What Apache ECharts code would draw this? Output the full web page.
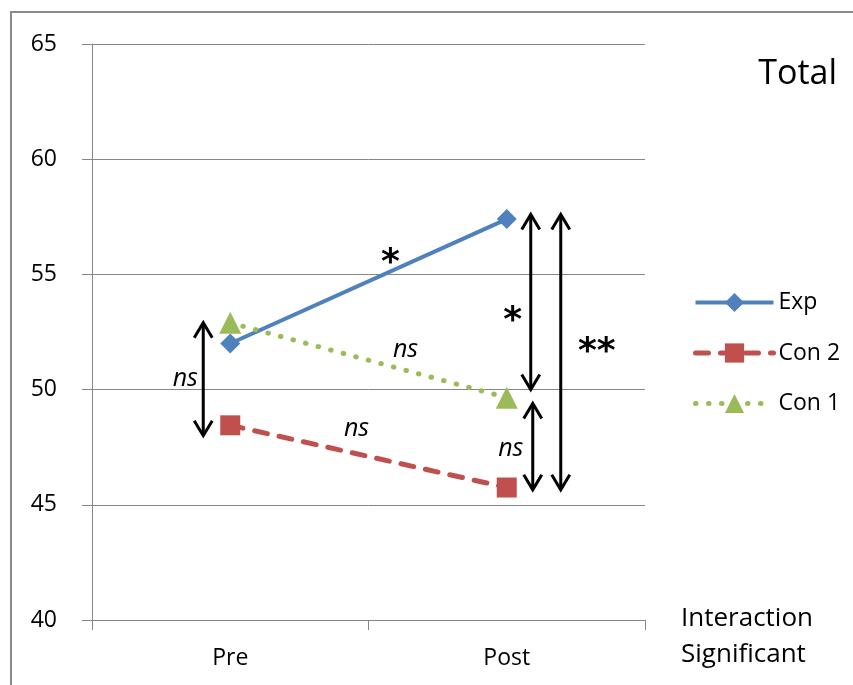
<!DOCTYPE html>
<html><head><meta charset="utf-8">
<script src="https://cdn.jsdelivr.net/npm/echarts@6/dist/echarts.min.js"></script>
<style>html,body{margin:0;padding:0;background:#fff}#c{width:853px;height:685px}</style>
</head><body><div id="c"></div>
<script>
// ---- data ----
const categories = ['Pre', 'Post'];
const expValues = [52.0, 57.4];
const con2Values = [48.45, 45.75];
const con1Values = [52.9, 49.65];
const yMin = 40, yMax = 65, yInterval = 5;
// significance comparisons: [categoryIndex, fromValue, toValue]
const comparisons = [[0, 52.9, 48.0], [1, 57.6, 50.0], [1, 49.4, 45.65], [1, 57.6, 45.65]];
const comparisonLabels = ['ns', '*', 'ns', '**'];
// trend labels for Exp, Con 1, Con 2 segments
const trendLabels = ['*', 'ns', 'ns'];

// ---- layout (pixels) ----
const arrowDx = [-27, 24, 26, 54];
const compLabelOffset = [[-18, 0], [-18, 11], [-22, 2], [36, -9]];
const trendLabelOffset = [[22, -27], [37, -10], [-12, -28]];
const FONT = '"Open Sans", Lato, sans-serif';
const STAR_FONT = '"DejaVu Sans", sans-serif';
const STAR_SHIFT = 9;

const chart = echarts.init(document.getElementById('c'));

function labelStyle(t) {
  const star = t.indexOf('*') >= 0;
  return {
    text: t,
    fontFamily: star ? STAR_FONT : FONT,
    fontStyle: star ? 'normal' : 'italic',
    fontWeight: star ? 'bold' : 'normal',
    fontSize: star ? 36 : 25,
    fill: '#000',
    align: 'center',
    verticalAlign: 'middle'
  };
}
function labelDy(t) { return t.indexOf('*') >= 0 ? STAR_SHIFT : 0; }

const arrowSeries = {
  type: 'custom',
  coordinateSystem: 'cartesian2d',
  silent: true,
  z: 10,
  data: comparisons.map(function (c, i) { return [c[0], c[1], c[2], i]; }),
  renderItem: function (params, api) {
    const i = api.value(3);
    const p1 = api.coord([api.value(0), api.value(1)]);
    const p2 = api.coord([api.value(0), api.value(2)]);
    const x = p1[0] + arrowDx[i];
    const y1 = p1[1], y2 = p2[1];
    const hw = 9, hh = 15;
    const st = { stroke: '#000', lineWidth: 3, fill: null, lineCap: 'butt', lineJoin: 'miter' };
    const off = compLabelOffset[i];
    const t = comparisonLabels[i];
    return {
      type: 'group',
      children: [
        { type: 'line', shape: { x1: x, y1: y1 + 1, x2: x, y2: y2 - 1 }, style: st },
        { type: 'polyline', shape: { points: [[x - hw, y1 + hh], [x, y1], [x + hw, y1 + hh]] }, style: st },
        { type: 'polyline', shape: { points: [[x - hw, y2 - hh], [x, y2], [x + hw, y2 - hh]] }, style: st },
        { type: 'text', x: x + off[0], y: (y1 + y2) / 2 + off[1] + labelDy(t), style: labelStyle(t) }
      ]
    };
  }
};

const trendSeriesData = [expValues, con1Values, con2Values];
const trendSeries = {
  type: 'custom',
  coordinateSystem: 'cartesian2d',
  silent: true,
  z: 10,
  data: trendSeriesData.map(function (v, i) { return [0, v[0], v[1], i]; }),
  renderItem: function (params, api) {
    const i = api.value(3);
    const a = api.coord([0, api.value(1)]);
    const b = api.coord([1, api.value(2)]);
    const off = trendLabelOffset[i];
    const t = trendLabels[i];
    return {
      type: 'text',
      x: (a[0] + b[0]) / 2 + off[0],
      y: (a[1] + b[1]) / 2 + off[1] + labelDy(t),
      style: labelStyle(t)
    };
  }
};

const axisGray = '#868686';

chart.setOption({
  animation: false,
  backgroundColor: '#fff',
  grid: { left: 92, right: 208, top: 44, bottom: 65 },
  legend: {
    orient: 'vertical',
    left: 688,
    top: 286,
    itemWidth: 78,
    itemHeight: 24,
    itemGap: 27.5,
    data: [
      { name: 'Exp', lineStyle: { width: 4 } },
      { name: 'Con 2', lineStyle: { width: 5 } },
      { name: 'Con 1', lineStyle: { width: 5 } }
    ],
    textStyle: { fontFamily: FONT, fontSize: 23, color: '#000' }
  },
  xAxis: {
    type: 'category',
    data: categories,
    boundaryGap: true,
    axisLine: { lineStyle: { color: axisGray, width: 1 } },
    axisTick: { show: true, length: 10, lineStyle: { color: axisGray } },
    axisLabel: { margin: 27, fontFamily: FONT, fontSize: 23, color: '#000' },
    splitLine: { show: false }
  },
  yAxis: {
    type: 'value',
    min: yMin, max: yMax, interval: yInterval,
    axisLine: { show: true, lineStyle: { color: axisGray, width: 1 } },
    axisTick: { show: true, length: 10, lineStyle: { color: axisGray } },
    axisLabel: { margin: 35, fontFamily: FONT, fontSize: 23, color: '#000' },
    splitLine: { show: true, lineStyle: { color: axisGray, width: 1 } }
  },
  graphic: [
    { type: 'rect', shape: { x: 11, y: 12, width: 900, height: 900 }, style: { fill: null, stroke: '#8a8a8a', lineWidth: 2 }, z: -1 },
    { type: 'text', right: 16, top: 57, style: { text: 'Total', fontFamily: FONT, fontSize: 34, fill: '#000' } },
    { type: 'text', left: 681, top: 601, style: { text: 'Interaction\nSignificant', fontFamily: FONT, fontSize: 26, lineHeight: 36, fill: '#000' } }
  ],
  series: [
    {
      name: 'Exp', type: 'line', data: expValues,
      symbol: 'diamond', symbolSize: 20,
      itemStyle: { color: '#4F81BD' },
      lineStyle: { color: '#4F81BD', width: 4 },
      z: 3
    },
    {
      name: 'Con 2', type: 'line', data: con2Values,
      symbol: 'rect', symbolSize: 20,
      itemStyle: { color: '#C0504D' },
      lineStyle: { color: '#C0504D', width: 5, type: [13, 12], cap: 'round' },
      z: 3
    },
    {
      name: 'Con 1', type: 'line', data: con1Values,
      symbol: 'triangle', symbolSize: 22,
      itemStyle: { color: '#9BBB59' },
      lineStyle: { color: '#9BBB59', width: 5, type: [0.5, 12.5], cap: 'round' },
      z: 4
    },
    arrowSeries,
    trendSeries
  ]
});
</script></body></html>
